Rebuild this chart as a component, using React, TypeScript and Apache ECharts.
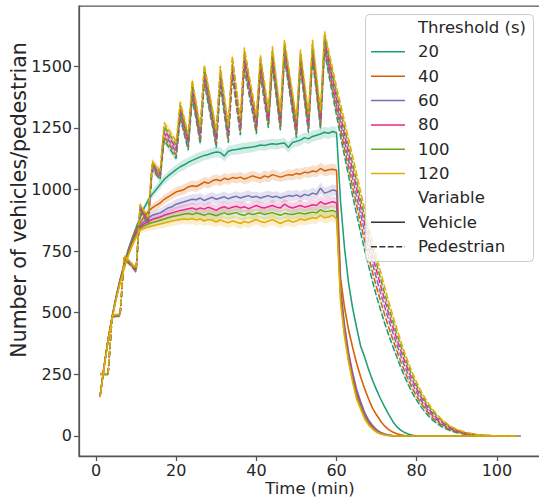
import React, { useEffect, useRef } from "react";
import * as echarts from "echarts";

const time = [1,2,3,4,5,6,7,8,9,10,11,12,13,14,15,16,17,18,19,20,21,22,23,24,25,26,27,28,29,30,31,32,33,34,35,36,37,38,39,40,41,42,43,44,45,46,47,48,49,50,51,52,53,54,55,56,57,58,59,60,61,62,63,64,65,66,67,68,69,70,71,72,73,74,75,76,77,78,79,80,81,82,83,84,85,86,87,88,89,90,91,92,93,94,95,96,97,98,99,100,101,102,103,104,105,106];

const thresholds = ["20", "40", "60", "80", "100", "120"];
const colors = ["#1b9e77", "#d95f02", "#7570b3", "#e7298a", "#66a61e", "#e6ab02"];
const xTicks = [0, 20, 40, 60, 80, 100];
const yTicks = [0, 250, 500, 750, 1000, 1250, 1500];

// Vehicles (solid lines)
const vehicle20 = [160,282,392,484,565,636,698,754,802,845,
885,925,955,980,1000,1020,1040,1055,1068,1080,
1092,1100,1110,1118,1125,1132,1138,1142,1148,1152,
1150,1135,1155,1160,1162,1165,1168,1170,1172,1175,
1180,1178,1182,1185,1183,1186,1188,1170,1190,1195,
1200,1210,1205,1215,1220,1225,1232,1228,1235,1230,
950,760,620,520,440,365,320,270,225,186,
150,118,88,60,38,24,14,7,3,1,
0,0,0,0,0,0,0,0,0,0,0,0,0,0,0,0,0,0,0,0,0,0,0,0,0];
const vehicle40 = [160,281,391,482,562,633,694,749,796,838,
865,890,910,925,935,945,960,970,980,990,
995,1000,1010,1015,1012,1020,1030,1025,1035,1040,
1035,1045,1040,1048,1045,1050,1042,1048,1055,1050,
1045,1055,1050,1060,1055,1050,1055,1060,1058,1065,
1062,1070,1068,1075,1072,1085,1075,1080,1082,1078,
640,520,430,360,295,240,192,150,112,85,
60,40,26,16,9,5,2,1,0,0,
0,0,0,0,0,0,0,0,0,0,0,0,0,0,0,0,0,0,0,0,0,0,0,0,0];
const vehicle60 = [160,280,390,480,560,630,690,745,790,830,
855,870,885,895,900,905,915,925,930,940,
945,950,955,960,958,965,955,962,968,960,
965,970,962,968,972,965,970,975,968,972,
965,970,975,968,972,965,970,975,972,978,
970,980,975,985,980,1005,985,990,998,995,
600,450,340,258,190,140,96,64,42,25,
14,8,4,2,1,0,0,0,0,0,
0,0,0,0,0,0,0,0,0,0,0,0,0,0,0,0,0,0,0,0,0,0,0,0,0,0];
const vehicle80 = [159,279,389,479,558,627,686,740,784,823,
848,860,870,878,883,888,895,900,905,910,
915,918,922,925,918,925,920,928,922,915,
925,930,922,928,932,925,930,922,928,935,
928,925,930,935,928,925,940,930,925,930,
935,928,932,938,935,950,940,945,950,945,
580,430,325,242,175,128,86,56,36,21,
12,6,3,1,0,0,0,0,0,0,
0,0,0,0,0,0,0,0,0,0,0,0,0,0,0,0,0,0,0,0,0,0,0,0,0];
const vehicle100 = [159,278,388,477,556,624,682,735,778,815,
842,852,860,866,870,875,880,885,890,893,
896,900,902,898,905,900,895,902,898,893,
900,905,898,902,906,898,895,903,898,902,
905,898,902,906,900,895,903,900,898,902,
905,900,904,908,905,918,910,912,915,908,
560,415,310,230,162,118,78,50,32,18,
10,5,2,1,0,0,0,0,0,0,
0,0,0,0,0,0,0,0,0,0,0,0,0,0,0,0,0,0,0,0,0,0,0,0,0];
const vehicle120 = [158,277,386,475,553,620,677,729,771,806,
835,842,848,852,856,860,864,868,872,875,
878,880,878,882,876,880,872,878,875,868,
876,870,865,872,868,862,870,865,872,878,
870,866,872,878,870,862,870,875,868,872,
880,875,880,885,882,895,885,888,895,880,
540,400,300,220,150,110,70,45,28,15,
8,4,2,1,0,0,0,0,0,0,
0,0,0,0,0,0,0,0,0,0,0,0,0,0,0,0,0,0,0,0,0,0,0,0,0];

// Pedestrians (dashed lines)
const pedestrian20 = [250,250,248,482,486,487,718,703,686,665,
915,887,860,1080,1060,1040,1200,1175,1150,1125,
1290,1225,1160,1370,1280,1185,1435,1345,1260,1170,
1420,1305,1190,1460,1340,1220,1490,1400,1315,1225,
1465,1355,1250,1500,1370,1240,1530,1425,1315,1210,
1490,1360,1230,1530,1390,1245,1560,1470,1385,1300,
1215,1135,1055,975,900,825,755,690,625,565,
510,458,410,365,322,280,240,205,172,145,
120,99,80,64,51,40,31,24,18,13,
10,7,5,4,3,2,1,1,0,0,
0,0,0,0,0];
const pedestrian40 = [250,250,249,483,487,488,720,705,688,668,
920,892,866,1087,1067,1048,1214,1189,1164,1139,
1303,1238,1173,1385,1294,1199,1449,1360,1274,1184,
1436,1320,1204,1476,1355,1234,1507,1416,1330,1240,
1481,1371,1264,1516,1385,1255,1545,1440,1331,1225,
1505,1375,1245,1545,1405,1260,1576,1489,1406,1323,
1242,1165,1088,1011,937,863,793,727,662,602,
546,492,441,393,347,303,262,225,190,161,
134,112,91,73,59,47,37,28,21,16,
12,9,6,5,4,2,1,1,0,0,
0,0,0,0,0];
const pedestrian60 = [251,251,250,484,488,489,723,708,691,671,
925,897,871,1094,1074,1055,1228,1203,1178,1153,
1316,1251,1186,1400,1308,1213,1463,1375,1288,1198,
1452,1335,1218,1492,1370,1248,1524,1432,1345,1255,
1497,1387,1278,1532,1400,1270,1561,1455,1347,1240,
1521,1391,1260,1561,1420,1275,1592,1508,1427,1346,
1270,1195,1120,1045,972,899,829,762,697,637,
579,524,471,421,372,327,283,244,208,177,
147,122,100,82,66,52,41,32,25,19,
14,11,8,6,4,3,2,1,0,0,
0,0,0,0,0];
const pedestrian80 = [251,251,250,486,490,491,725,710,693,674,
930,902,877,1101,1081,1063,1242,1217,1192,1167,
1329,1264,1199,1415,1322,1227,1477,1390,1302,1212,
1468,1350,1232,1508,1385,1262,1541,1448,1360,1270,
1513,1403,1292,1548,1415,1285,1576,1470,1363,1255,
1536,1406,1275,1576,1435,1290,1608,1527,1448,1369,
1295,1222,1149,1076,1004,931,862,794,729,669,
609,552,497,445,395,348,303,262,224,191,
160,134,111,90,73,59,47,37,28,21,
17,12,9,7,5,3,2,2,1,1,
0,0,0,0,0];
const pedestrian100 = [252,252,251,487,491,492,728,713,696,677,
935,907,882,1108,1088,1070,1256,1231,1206,1181,
1342,1277,1212,1430,1336,1241,1491,1405,1316,1226,
1484,1365,1246,1524,1400,1276,1558,1464,1375,1285,
1529,1419,1306,1564,1430,1300,1592,1485,1379,1270,
1552,1422,1290,1592,1450,1305,1624,1546,1469,1392,
1320,1248,1176,1104,1032,960,890,822,757,697,
637,578,521,467,416,367,321,278,239,204,
172,144,120,99,81,66,52,41,32,24,
19,14,11,8,5,4,3,2,1,1,
0,0,0,0,0];
const pedestrian120 = [252,252,252,488,492,493,730,715,698,680,
940,912,888,1115,1095,1078,1270,1245,1220,1195,
1355,1290,1225,1445,1350,1255,1505,1420,1330,1240,
1500,1380,1260,1540,1415,1290,1575,1480,1390,1300,
1545,1435,1320,1580,1445,1315,1607,1500,1395,1285,
1567,1437,1305,1607,1465,1320,1640,1565,1490,1415,
1345,1275,1205,1135,1062,990,920,850,785,724,
664,604,545,490,437,386,338,294,253,217,
184,155,130,107,88,71,57,45,35,27,
21,16,12,9,6,4,3,2,1,1,
0,0,0,0,0];

// 95% CI half-widths
const vehicleCi = [4,5,6,7,8,9,10,11,12,13,
14,15,16,17,18,18,19,19,20,20,
20,21,20,21,22,21,20,21,22,21,
21,22,21,20,21,22,21,22,21,20,
21,22,21,22,21,20,21,22,21,22,
22,21,22,23,22,23,22,23,22,22,
20,18,16,14,12,10,9,8,7,6,
5,4,3,3,2,2,1,1,1,1,
1,1,1,1,1,0,0,0,0,0,
0,0,0,0,0,0,0,0,0,0,
0,0,0,0,0,0];
const pedestrianCi = [5,5,5,6,6,6,8,8,8,9,
10,10,11,12,12,12,14,14,14,14,
15,15,15,16,16,16,17,17,17,17,
17,17,17,18,18,18,18,18,18,18,
18,18,18,18,18,18,18,18,18,18,
18,18,18,18,18,18,18,18,17,17,
17,16,16,15,15,14,14,13,13,12,
12,11,10,10,9,9,8,8,7,7,
6,6,5,5,4,4,3,3,3,2,
2,2,1,1,1,1,1,0,0,0,
0,0,0,0,0,0];

const vehicleByThreshold = [vehicle20, vehicle40, vehicle60, vehicle80, vehicle100, vehicle120];
const pedestrianByThreshold = [pedestrian20, pedestrian40, pedestrian60, pedestrian80, pedestrian100, pedestrian120];

const FONT = "DejaVu Sans";
const TEXT = "#262626";
const SPINE = "#555555";
const DASH = [6, 2.4];

function rgba(hex: string, a: number) {
  const n = parseInt(hex.slice(1), 16);
  return `rgba(${n >> 16},${(n >> 8) & 255},${n & 255},${a})`;
}

function buildSeries() {
  const out: any[] = [];
  thresholds.forEach((th, k) => {
    const groups: [string, number[], number[], boolean][] = [
      ["Vehicle", vehicleByThreshold[k], vehicleCi, false],
      ["Pedestrian", pedestrianByThreshold[k], pedestrianCi, true],
    ];
    groups.forEach(([variable, vals, ci, dashed]) => {
      const rows: number[][] = [];
      const pts: number[][] = [];
      vals.forEach((v, i) => {
        rows.push([time[i], v - (ci[i] || 0), v + (ci[i] || 0)]);
        pts.push([time[i], v]);
      });
      out.push({
        type: "custom",
        name: `${th} ${variable} CI`,
        silent: true,
        encode: { x: 0, y: [1, 2] },
        data: rows,
        renderItem: (params: any, api: any) => {
          if (params.dataIndex !== 0) return null;
          const upper = rows.map((r) => api.coord([r[0], r[2]]));
          const lower = rows.map((r) => api.coord([r[0], r[1]])).reverse();
          return {
            type: "polygon",
            shape: { points: upper.concat(lower) },
            style: { fill: rgba(colors[k], 0.2), stroke: "none" },
            silent: true,
          };
        },
        z: 2,
      });
      out.push({
        type: "line",
        name: `${th} ${variable}`,
        data: pts,
        showSymbol: false,
        symbol: "none",
        silent: true,
        lineStyle: { color: colors[k], width: 1.5, type: dashed ? DASH : "solid" },
        z: 2,
      });
    });
  });
  return out;
}

function buildLegend() {
  const rows: { label: string; color?: string; dashed?: boolean }[] = [
    { label: "Threshold (s)" },
    ...thresholds.map((t, k) => ({ label: t, color: colors[k] })),
    { label: "Variable" },
    { label: "Vehicle", color: "#333333" },
    { label: "Pedestrian", color: "#333333", dashed: true },
  ];
  const els: any[] = [
    {
      type: "rect",
      shape: { x: 365.5, y: 14.5, width: 168, height: 247, r: 4 },
      style: { fill: "rgba(255,255,255,0.8)", stroke: "#cccccc", lineWidth: 1 },
      z: 100,
    },
  ];
  rows.forEach((row, i) => {
    const y = 27.5 + i * 24.35;
    if (row.color) {
      els.push({
        type: "line",
        shape: { x1: 371, y1: y, x2: 405, y2: y },
        style: { stroke: row.color, lineWidth: 1.5, lineDash: row.dashed ? DASH : null },
        z: 101,
      });
    }
    els.push({
      type: "text",
      x: 418,
      y: y,
      style: {
        text: row.label,
        fontSize: 16.5,
        fontFamily: FONT,
        fill: TEXT,
        align: "left",
        verticalAlign: "middle",
      },
      z: 101,
    });
  });
  els.push({
    type: "text",
    x: 310,
    y: 488,
    style: { text: "Time (min)", fontSize: 16.5, fontFamily: FONT, fill: TEXT, align: "center", verticalAlign: "middle" },
    z: 101,
  });
  els.push({
    type: "text",
    x: 19,
    y: 200,
    rotation: Math.PI / 2,
    style: {
      text: "Number of vehicles/pedestrian",
      fontSize: 20.5,
      fontFamily: FONT,
      fill: TEXT,
      align: "center",
      verticalAlign: "middle",
    },
    z: 101,
  });
  return els;
}

export default function App() {
  const ref = useRef<HTMLDivElement>(null);
  useEffect(() => {
    if (!ref.current) return;
    const chart = echarts.init(ref.current, null, { renderer: "svg" });
    chart.setOption({
      animation: false,
      backgroundColor: "#ffffff",
      textStyle: { fontFamily: FONT },
      grid: {
        show: true,
        borderColor: SPINE,
        borderWidth: 1.25,
        left: 79,
        top: 6,
        right: -3,
        bottom: 47,
        containLabel: false,
        outerBoundsMode: "none",
      },
      xAxis: {
        type: "value",
        min: -4.25,
        max: 111.25,
        splitLine: { show: false },
        axisLine: { show: true, onZero: false, lineStyle: { color: SPINE, width: 1.25 } },
        axisTick: { show: true, length: 5, lineStyle: { color: SPINE, width: 1.25 }, customValues: xTicks },
        axisLabel: {
          customValues: xTicks,
          formatter: (v: number) => String(v),
          fontSize: 16,
          color: TEXT,
          fontFamily: FONT,
          margin: 6,
        },
      },
      yAxis: {
        type: "value",
        min: -81.2,
        max: 1744,
        splitLine: { show: false },
        axisLine: { show: true, onZero: false, lineStyle: { color: SPINE, width: 1.25 } },
        axisTick: { show: true, length: 5, lineStyle: { color: SPINE, width: 1.25 }, customValues: yTicks },
        axisLabel: {
          customValues: yTicks,
          formatter: (v: number) => String(v),
          fontSize: 16,
          color: TEXT,
          fontFamily: FONT,
          margin: 7,
        },
      },
      series: buildSeries(),
      graphic: buildLegend(),
    });
    return () => chart.dispose();
  }, []);
  return (
    <div
      ref={ref}
      style={{ position: "fixed", left: 0, top: 0, width: 539, height: 503, background: "#fff" }}
    />
  );
}
